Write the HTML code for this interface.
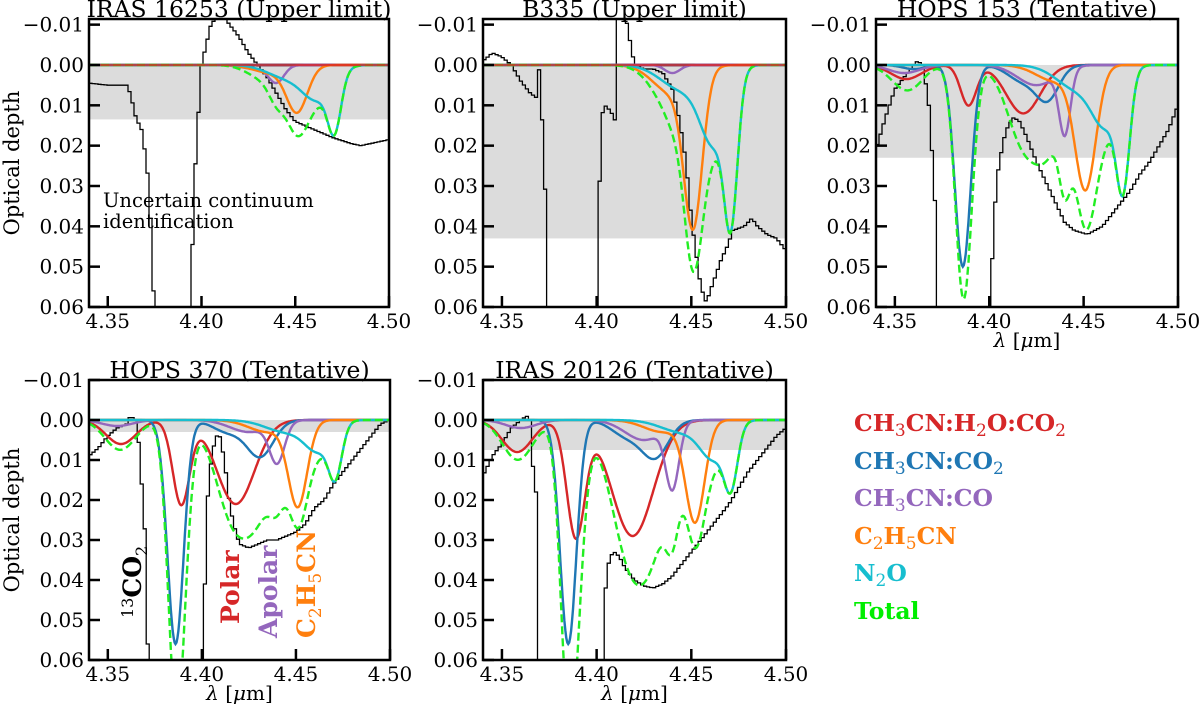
<!DOCTYPE html>
<html><head><meta charset="utf-8">
<style>
body{margin:0;background:#fff;}
#wrap{position:relative;width:1200px;height:709px;overflow:hidden;font-family:"DejaVu Serif","Liberation Serif",serif;}
svg{position:absolute;left:0;top:0;}
.leg{position:absolute;left:854px;font-weight:bold;font-size:23.5px;line-height:26px;white-space:nowrap;}
.leg sub{font-size:17px;font-weight:normal;vertical-align:-5px;line-height:0;}
</style></head>
<body>
<div id="wrap">
<svg id="fig" width="1200" height="709" xmlns="http://www.w3.org/2000/svg"></svg>
<div class="leg" style="top:410px;color:#d62728">CH<sub>3</sub>CN:H<sub>2</sub>O:CO<sub>2</sub></div>
<div class="leg" style="top:448px;color:#1f77b4">CH<sub>3</sub>CN:CO<sub>2</sub></div>
<div class="leg" style="top:485px;color:#9467bd">CH<sub>3</sub>CN:CO</div>
<div class="leg" style="top:523px;color:#ff7f0e">C<sub>2</sub>H<sub>5</sub>CN</div>
<div class="leg" style="top:560px;color:#17becf">N<sub>2</sub>O</div>
<div class="leg" style="top:598px;color:#00ee00">Total</div>
</div>
<script>
// ---- data: components as [center (um), peak depth, sigma (um)] ----
const xTicks=[4.35,4.40,4.45,4.50];
const xTickLabels=["4.35","4.40","4.45","4.50"];
const yTicks=[-0.01,0,0.01,0.02,0.03,0.04,0.05,0.06];
const yTickLabels=["\u22120.01","0.00","0.01","0.02","0.03","0.04","0.05","0.06"];
const titles=["IRAS 16253 (Upper limit)","B335 (Upper limit)","HOPS 153 (Tentative)","HOPS 370 (Tentative)","IRAS 20126 (Tentative)"];
const bandDepth=[0.0135,0.043,0.023,0.003,0.0075];

const p1_red=[];const p1_blue=[];
const p1_purple=[[4.44,0.004,0.004],[4.43,0.001,0.008]];
const p1_orange=[[4.451,0.011,0.0055],[4.438,0.002,0.01]];
const p1_cyan=[[4.471,0.013,0.0035],[4.462,0.008,0.008],[4.445,0.003,0.01]];
const p1_wl=[4.34,4.35,4.36,4.362,4.365,4.368,4.370,4.372,4.373,4.374,4.376,4.394,4.395,4.397,4.40,4.402,4.405,4.41,4.415,4.42,4.425,4.43,4.435,4.44,4.445,4.45,4.46,4.47,4.48,4.485,4.49,4.50];
const p1_tau=[0.0045,0.005,0.005,0.007,0.013,0.016,0.022,0.03,0.04,0.05,0.08,0.08,0.047,0.022,0.0,-0.004,-0.01,-0.013,-0.01,-0.007,-0.003,0.0,0.003,0.007,0.011,0.014,0.016,0.018,0.0195,0.020,0.0195,0.0185];

const p2_red=[];const p2_blue=[];
const p2_purple=[[4.44,0.002,0.004]];
const p2_orange=[[4.451,0.037,0.0048],[4.44,0.007,0.01]];
const p2_cyan=[[4.471,0.033,0.0035],[4.462,0.018,0.007],[4.445,0.006,0.011]];
const p2_wl=[4.34,4.345,4.35,4.355,4.36,4.365,4.368,4.369,4.37,4.372,4.374,4.375,4.40,4.401,4.403,4.405,4.408,4.41,4.411,4.415,4.418,4.42,4.425,4.43,4.435,4.44,4.443,4.446,4.448,4.45,4.452,4.455,4.458,4.46,4.463,4.466,4.469,4.472,4.478,4.482,4.485,4.49,4.495,4.50];
const p2_tau=[-0.001,-0.003,-0.002,0.0,0.004,0.007,0.008,-0.003,0.004,0.02,0.047,0.08,0.08,0.036,0.012,0.01,0.012,0.014,-0.013,-0.013,-0.005,0.0,0.001,0.001,0.002,0.006,0.012,0.02,0.028,0.038,0.045,0.055,0.059,0.056,0.052,0.048,0.045,0.041,0.040,0.038,0.040,0.042,0.043,0.046];

const p3_red=[[4.389,0.010,0.0042],[4.418,0.012,0.009],[4.356,0.0035,0.008]];
const p3_blue=[[4.386,0.050,0.0042],[4.431,0.008,0.006],[4.418,0.004,0.008],[4.36,0.001,0.006]];
const p3_purple=[[4.44,0.016,0.003],[4.425,0.005,0.01],[4.355,0.002,0.008]];
const p3_orange=[[4.451,0.030,0.0055],[4.435,0.004,0.01]];
const p3_cyan=[[4.471,0.026,0.0035],[4.462,0.013,0.007],[4.447,0.006,0.011]];
const p3_wl=[4.34,4.345,4.35,4.355,4.36,4.362,4.365,4.368,4.37,4.372,4.373,4.40,4.402,4.405,4.408,4.41,4.413,4.416,4.42,4.425,4.43,4.435,4.44,4.445,4.452,4.46,4.465,4.47,4.475,4.48,4.485,4.49,4.495,4.50];
const p3_tau=[0.021,0.013,0.006,0.003,0.0,-0.001,0.0,0.01,0.024,0.04,0.08,0.08,0.04,0.025,0.018,0.015,0.013,0.014,0.018,0.024,0.029,0.034,0.039,0.041,0.042,0.040,0.037,0.034,0.031,0.027,0.024,0.020,0.016,0.010];

const p4_red=[[4.357,0.006,0.008],[4.389,0.021,0.0045],[4.418,0.021,0.01]];
const p4_blue=[[4.386,0.056,0.0043],[4.431,0.009,0.007],[4.414,0.003,0.008]];
const p4_purple=[[4.44,0.010,0.004],[4.425,0.003,0.01],[4.355,0.0015,0.008]];
const p4_orange=[[4.451,0.021,0.005],[4.435,0.003,0.01]];
const p4_cyan=[[4.471,0.012,0.0035],[4.462,0.007,0.007],[4.445,0.003,0.011]];
const p4_wl=[4.34,4.345,4.35,4.355,4.36,4.362,4.365,4.367,4.368,4.37,4.371,4.372,4.40,4.401,4.403,4.405,4.407,4.409,4.41,4.412,4.415,4.418,4.42,4.425,4.43,4.435,4.44,4.445,4.45,4.455,4.46,4.465,4.47,4.475,4.48,4.485,4.49,4.495,4.50];
const p4_tau=[0.009,0.007,0.004,0.002,0.001,-0.001,0.0,0.008,0.016,0.03,0.05,0.08,0.08,0.05,0.02,0.01,0.005,0.003,0.005,0.01,0.022,0.028,0.031,0.032,0.031,0.030,0.030,0.029,0.028,0.026,0.022,0.020,0.016,0.013,0.010,0.007,0.004,0.001,0.0];

const p5_red=[[4.358,0.008,0.008],[4.389,0.029,0.0048],[4.419,0.029,0.011]];
const p5_blue=[[4.385,0.056,0.0043],[4.431,0.009,0.007],[4.416,0.004,0.008]];
const p5_purple=[[4.44,0.016,0.0035],[4.425,0.005,0.01],[4.36,0.002,0.008]];
const p5_orange=[[4.452,0.025,0.005],[4.435,0.003,0.01]];
const p5_cyan=[[4.471,0.014,0.0035],[4.462,0.009,0.007],[4.445,0.003,0.011]];
const p5_wl=[4.34,4.345,4.35,4.355,4.36,4.363,4.365,4.366,4.368,4.369,4.37,4.403,4.404,4.405,4.407,4.41,4.413,4.415,4.42,4.425,4.43,4.435,4.44,4.445,4.45,4.455,4.46,4.465,4.47,4.475,4.48,4.485,4.49,4.495,4.50];
const p5_tau=[0.014,0.009,0.006,0.002,0.0,-0.001,0.0,0.01,0.018,0.036,0.08,0.08,0.05,0.04,0.034,0.033,0.035,0.037,0.040,0.0415,0.042,0.041,0.039,0.036,0.033,0.030,0.027,0.024,0.021,0.017,0.013,0.010,0.007,0.004,0.002];

const panelComps=[[p1_red,p1_blue,p1_purple,p1_orange,p1_cyan],[p2_red,p2_blue,p2_purple,p2_orange,p2_cyan],[p3_red,p3_blue,p3_purple,p3_orange,p3_cyan],[p4_red,p4_blue,p4_purple,p4_orange,p4_cyan],[p5_red,p5_blue,p5_purple,p5_orange,p5_cyan]];
const panelObsWl=[p1_wl,p2_wl,p3_wl,p4_wl,p5_wl];
const panelObsTau=[p1_tau,p2_tau,p3_tau,p4_tau,p5_tau];

// ---- layout ----
const geo=[{l:89,r:389,t:19,b:307,ymin:-0.0114,xl:false},{l:483,r:786,t:19,b:307,ymin:-0.0114,xl:false},{l:876,r:1178,t:19,b:307,ymin:-0.0114,xl:true},{l:89,r:390,t:380,b:660,ymin:-0.01,xl:true},{l:483,r:786,t:380,b:660,ymin:-0.01,xl:true}];
const colors=["#d62728","#1f77b4","#9467bd","#ff7f0e","#17becf"];
const compNames=["polar","co2-mix","co-mix","c2h5cn","n2o"];
const NS="http://www.w3.org/2000/svg";
const svg=document.getElementById('fig');
function mk(tag,attrs,parent){const e=document.createElementNS(NS,tag);for(const k in attrs)e.setAttribute(k,attrs[k]);(parent||svg).appendChild(e);return e;}
function model(comp,x){let s=0;for(const g of comp){s+=g[1]*Math.exp(-((x-g[0])**2)/(2*g[2]*g[2]));}return s;}
function interp(wl,tau,x){if(x<=wl[0])return tau[0];for(let k=1;k<wl.length;k++){if(x<=wl[k]){const f=(x-wl[k-1])/(wl[k]-wl[k-1]);return tau[k-1]+f*(tau[k]-tau[k-1]);}}return tau[tau.length-1];}

geo.forEach((g,i)=>{
  const X=v=>g.l+(v-4.34)/(4.50-4.34)*(g.r-g.l);
  const Y=v=>g.t+(v-g.ymin)/(0.06-g.ymin)*(g.b-g.t);
  const grp=mk('g',{});
  
  
  const cp=mk('clipPath',{id:'cp'+i},grp);
  mk('rect',{x:g.l,y:g.t,width:g.r-g.l,height:g.b-g.t},cp);
  const band=mk('rect',{x:g.l,y:Y(0),width:g.r-g.l,height:Y(bandDepth[i])-Y(0),fill:'#dcdcdc'},grp);
  
  
  const cg=mk('g',{'clip-path':'url(#cp'+i+')'},grp);
  const wl=panelObsWl[i],tau=panelObsTau[i];
  const bw=0.0016;
  let d='';
  for(let x=4.34;x<4.5+bw;x+=bw){
    const v=interp(wl,tau,x+bw/2);
    d+=(d?' L':'M')+X(x).toFixed(1)+' '+Y(v).toFixed(1)+' L'+X(x+bw).toFixed(1)+' '+Y(v).toFixed(1);
  }
  const obs=mk('path',{d:d,fill:'none',stroke:'#000','stroke-width':1.3},cg);
  
  
  const comps=panelComps[i];
  const grid=[];for(let k=0;k<=320;k++)grid.push(4.34+k*0.0005);
  comps.forEach((c,ci)=>{
    const pts=grid.map(x=>X(x).toFixed(1)+','+Y(model(c,x)).toFixed(1)).join(' ');
    const pl=mk('polyline',{points:pts,fill:'none',stroke:colors[ci],'stroke-width':ci===0&&c.length===0?3:2.4},cg);
    
    
  });
  const tot=grid.map(x=>{let s=0;comps.forEach(c=>s+=model(c,x));return X(x).toFixed(1)+','+Y(s).toFixed(1);}).join(' ');
  const tl=mk('polyline',{points:tot,fill:'none',stroke:'#22ee22','stroke-width':2.4,'stroke-dasharray':'8,4'},cg);
  
  
  if(comps[0].length===0){
    const rl=mk('line',{x1:g.l,x2:g.r,y1:Y(0),y2:Y(0),stroke:'#d62728','stroke-width':2.2,'stroke-opacity':0.8},cg);
    
    
  }
  const fr=mk('rect',{x:g.l,y:g.t,width:g.r-g.l,height:g.b-g.t,fill:'none',stroke:'#000','stroke-width':2.5},grp);
  
  
  yTicks.forEach((v,k)=>{
    mk('line',{x1:g.l,x2:g.l+11,y1:Y(v),y2:Y(v),stroke:'#000','stroke-width':2.5},grp);
    const t=mk('text',{x:g.l-5,y:Y(v)+7,'text-anchor':'end','font-size':20,fill:'#000'},grp);
    t.textContent=yTickLabels[k];
    
    
  });
  xTicks.forEach((v,k)=>{
    mk('line',{x1:X(v),x2:X(v),y1:g.b,y2:g.b-11,stroke:'#000','stroke-width':2.5},grp);
    const t=mk('text',{x:X(v),y:g.b+21,'text-anchor':'middle','font-size':20,fill:'#000'},grp);
    t.textContent=xTickLabels[k];
    
    
  });
  const ti=mk('text',{x:(g.l+g.r)/2,y:g.t-2,'text-anchor':'middle','font-size':23.5,fill:'#000'},grp);
  ti.textContent=titles[i];
  
  
  if(g.xl){
    const xl=mk('text',{x:(g.l+g.r)/2,y:g.b+40,'text-anchor':'middle','font-size':20,fill:'#000'},grp);
    xl.innerHTML='<tspan font-style="italic">λ</tspan> [<tspan font-style="italic">μ</tspan>m]';
    
    
  }
  if(i===0||i===3){
    const yl=mk('text',{x:0,y:0,'text-anchor':'middle','font-size':21,fill:'#000',transform:'translate(19,'+((g.t+g.b)/2)+') rotate(-90)'},grp);
    yl.textContent='Optical depth';
    
    
  }
});
function ann(txt,x,y,col,name,rot,size,bold){
  const t=mk('text',{x:0,y:0,'font-size':size,fill:col,'font-weight':bold?'bold':'normal',transform:'translate('+x+','+y+')'+(rot?' rotate(-90)':'')});
  t.innerHTML=txt;
  
  
}
ann('Uncertain continuum',103,207,'#000','annotation-uncertain',false,19.5,false);
ann('identification',103,228,'#000','annotation-identification',false,19.5,false);
ann('<tspan font-size="16" font-weight="normal" dy="-8">13</tspan><tspan dy="8">CO</tspan><tspan font-size="16" font-weight="normal" dy="6">2</tspan>',141,618,'#000','label-13co2',true,25,true);
ann('Polar',239,624,'#d62728','label-polar',true,25,true);
ann('Apolar',277,638,'#9467bd','label-apolar',true,25,true);
ann('C<tspan font-size="17" font-weight="normal" dy="6">2</tspan><tspan dy="-6">H</tspan><tspan font-size="17" font-weight="normal" dy="6">5</tspan><tspan dy="-6">CN</tspan>',315,638,'#ff7f0e','label-c2h5cn',true,25,true);
</script>
</body></html>
